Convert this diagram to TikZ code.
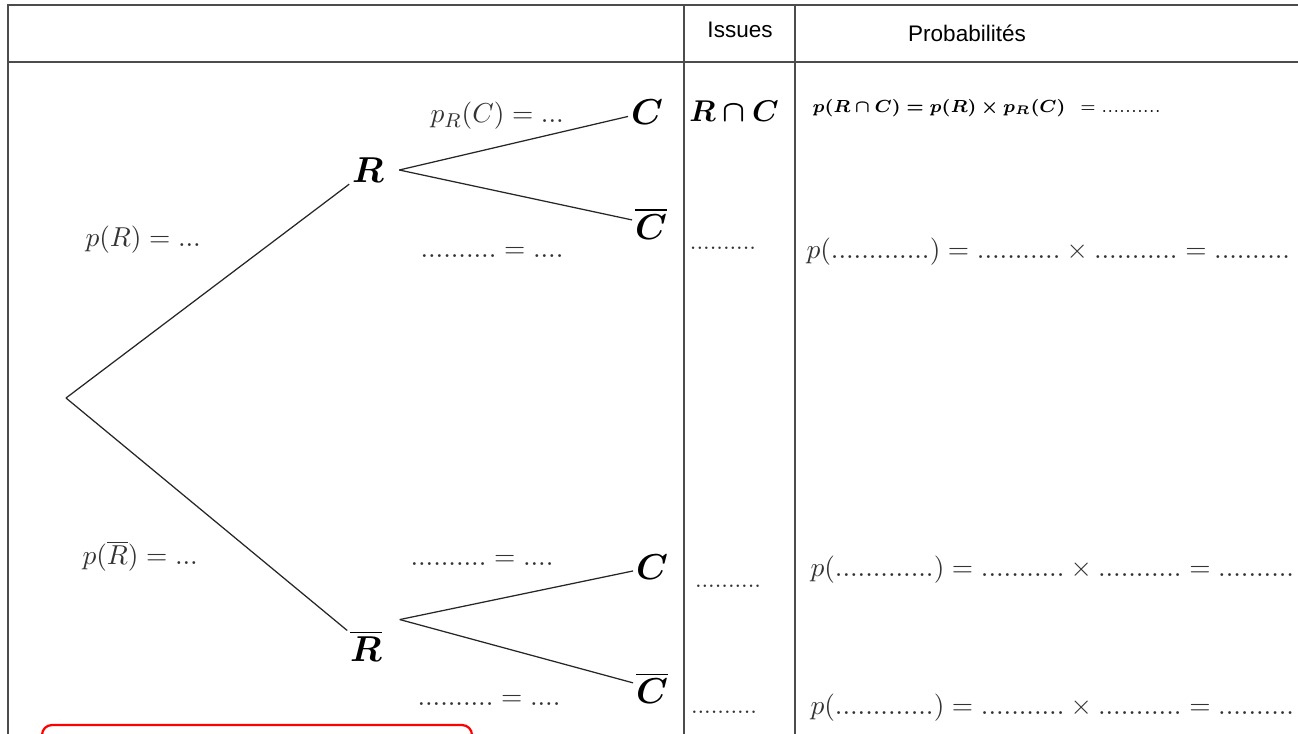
\documentclass[tikz,border=0pt]{standalone}
\usepackage{fontspec}
\usepackage{amsmath,bm}
\newfontfamily\hsans{Liberation Sans}
\begin{document}
\begin{tikzpicture}[x=0.4pt,y=-0.4pt,
  tab/.style={draw=black!70,line width=0.6pt},
  br/.style={draw=black!85,line width=0.5pt},
  ev/.style={font=\fontsize{15.5}{18}\selectfont, inner sep=1pt},
  lab/.style={font=\fontsize{11}{13}\selectfont, text=black!80, inner sep=0pt, anchor=west},
  head/.style={font=\hsans\fontsize{9}{11}\selectfont, inner sep=0pt},
  iss/.style={font=\fontsize{9.5}{11}\selectfont, text=black!80, inner sep=0pt},
  proba/.style={font=\fontsize{11}{13}\selectfont, text=black!80, inner sep=0pt, anchor=west}]
\useasboundingbox (0,0) rectangle (1298,733);
\clip (0,0) rectangle (1298,733);
% table
\draw[tab] (1310,5) -- (8,5) -- (8,760);
\draw[tab] (8,62) -- (1310,62);
\draw[tab] (684,5) -- (684,760);
\draw[tab] (795,5) -- (795,760);
\node[head] (issues) at (740,30) {Issues};
\node[head] (probas) at (967,33) {Probabilités};
% tree
\coordinate (O) at (66,398);
\node[ev] (R) at (368,170) {$\bm{R}$};
\node[ev] (Rb) at (366,646) {$\overline{\bm{R}}$};
\node[ev] (C1) at (647,112) {$\bm{C}$};
\node[ev] (C1b) at (651,224) {$\overline{\bm{C}}$};
\node[ev] (C2) at (652,567) {$\bm{C}$};
\node[ev] (C2b) at (652,688) {$\overline{\bm{C}}$};
\draw[br] (O) -- (R);
\draw[br] (O) -- (Rb);
\draw[br] ([xshift=5pt]R.east) -- (C1);
\draw[br] ([xshift=5pt]R.east) -- (C1b);
\draw[br] ([xshift=6pt,yshift=3pt]Rb.north east) -- (C2);
\draw[br] ([xshift=6pt,yshift=3pt]Rb.north east) -- (C2b);
% branch labels
\node[lab] (lR) at (85,240) {$p(R) = ...$};
\node[lab] (lRb) at (82,556) {$p(\overline{R}) = ...$};
\node[lab] (lRC) at (430,116) {$p_R(C) = ...$};
\node[lab] (lRCb) at (420,252) {$.......... = ....$};
\node[lab] (lRbC) at (410,560) {$.......... = ....$};
\node[lab] (lRbCb) at (417,700) {$.......... = ....$};
% issues
\node[font=\fontsize{12}{14}\selectfont, inner sep=0pt] (iRC) at (734,111) {$\bm{R\cap C}$};
\node[iss] (i2) at (723,248) {..........};
\node[iss] (i3) at (728,586) {..........};
\node[iss] (i4) at (724,712) {..........};
% probabilities
\node[font=\fontsize{7.5}{9}\selectfont, inner sep=0pt, anchor=west] (p1) at (812,108) {$\bm{p(R\cap C)=p(R)\times p_R(C)}\;\,= ..........$};
\node[proba] (p2) at (806,252) {$p(.............) = ........... \times ........... = ..........$};
\node[proba] (p3) at (810,570) {$p(.............) = ........... \times ........... = ..........$};
\node[proba] (p4) at (810,708) {$p(.............) = ........... \times ........... = ..........$};
% red frame
\draw[red, line width=0.9pt, rounded corners=4pt] (42,770) rectangle (472,725);
\end{tikzpicture}
\end{document}
